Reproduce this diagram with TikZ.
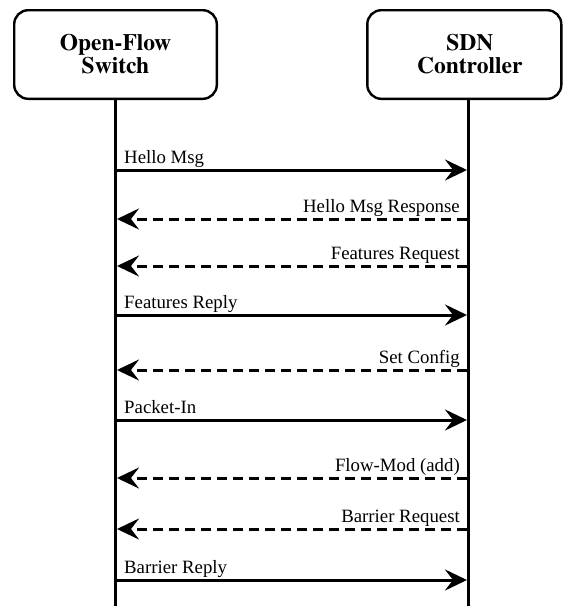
\documentclass[tikz,border=0pt]{standalone}
\usepackage{fontspec}
\setmainfont{Liberation Serif}
\newfontfamily\titlefont{texgyretermes-bold.otf}
\usetikzlibrary{arrows.meta}
\begin{document}
\begin{tikzpicture}[x=1pt,y=1pt,
  actor/.style={draw, line width=2.4pt, rounded corners=14pt, inner sep=0pt,
    minimum height=88.6pt},
  title/.style={font=\titlefont\fontsize{23.5}{23}\selectfont, align=center, inner sep=0pt},
  life/.style={line width=3pt},
  msg/.style={line width=3pt, shorten >=1.5pt, shorten <=1.5pt,
    -{Stealth[length=22pt, width=21pt, inset=8pt]}},
  reply/.style={msg, dash pattern=on 10pt off 6pt},
  lbl/.style={font=\fontsize{18.8}{20}\selectfont, inner sep=0pt}]
\useasboundingbox (0,0) rectangle (563,-606);

% participants
\node[actor, minimum width=202.6pt, title] (sw) at (115.5,-54.5) {Open-Flow\\Switch};
\node[actor, minimum width=194pt,
  label={[title, xshift=5.5pt]center:{SDN\\Controller}}] (ctl) at (464.3,-54.5) {};

% lifelines
\coordinate (swend) at (sw.south |- 0,-612);
\coordinate (ctltop) at (ctl.south -| 468.5,0);
\coordinate (ctlend) at (ctltop |- 0,-612);
\draw[life] (sw.south) -- (swend);
\draw[life] (ctltop) -- (ctlend);

% switch -> controller
\foreach \y/\t [count=\i] in {170/{Hello Msg}, 315/{Features Reply}, 420/{Packet-In}, 580/{Barrier Reply}} {
  \draw[msg] (sw.south |- 0,-\y) -- (ctltop |- 0,-\y);
  \node[lbl, anchor=base west] (up\i) at (124,-\y+6.5) {\t};
}

% controller -> switch
\foreach \y/\t [count=\i] in {219/{Hello Msg Response}, 266/{Features Request}, 370/{Set Config}, 478/{Flow-Mod (add)}, 529/{Barrier Request}} {
  \draw[reply] (ctltop |- 0,-\y) -- (sw.south |- 0,-\y);
  \node[lbl, anchor=base east] (down\i) at (460,-\y+6.5) {\t};
}
\end{tikzpicture}
\end{document}
